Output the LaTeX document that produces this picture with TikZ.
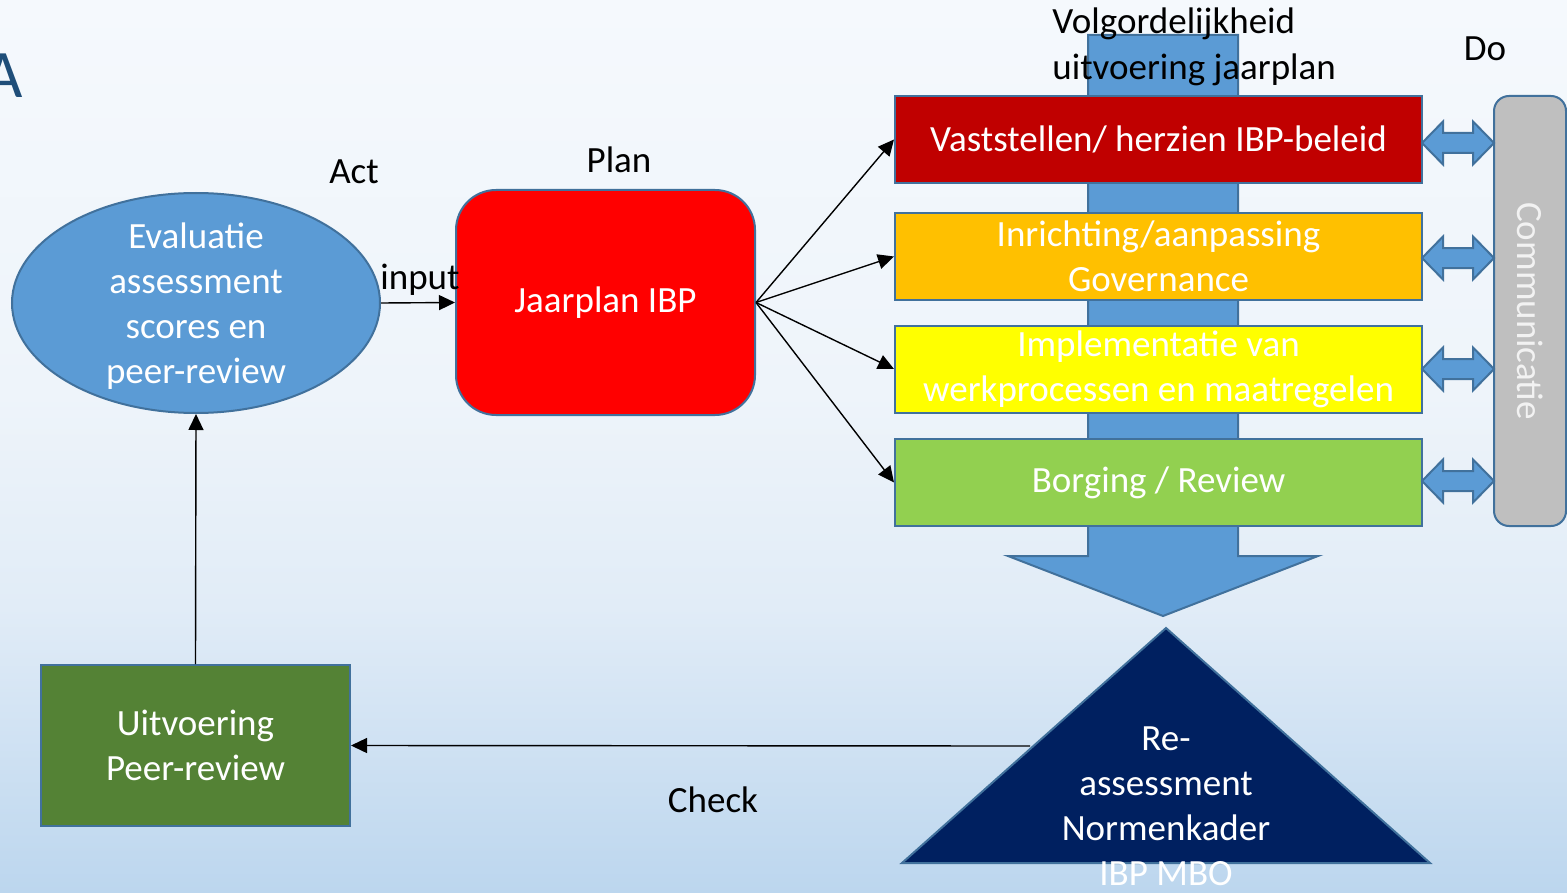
\documentclass[tikz,border=0pt]{standalone}
\usepackage{fontspec}
\setmainfont{Carlito}
\usetikzlibrary{arrows.meta,shapes.geometric}
\definecolor{edgeblue}{HTML}{41719C}
\definecolor{arrowblue}{HTML}{5B9BD5}
\definecolor{Adark}{HTML}{1F4E79}
\definecolor{boxred}{HTML}{C00000}
\definecolor{boxorange}{HTML}{FFC000}
\definecolor{boxyellow}{HTML}{FFFF00}
\definecolor{boxgreen}{HTML}{92D050}
\definecolor{commgray}{HTML}{BFBFBF}
\definecolor{commtext}{HTML}{F2F2F2}
\definecolor{navy}{HTML}{002060}
\definecolor{peergreen}{HTML}{548235}
\definecolor{bgtop}{HTML}{F5F9FD}
\definecolor{bgmidtop}{HTML}{EEF4FA}
\definecolor{bgmid}{HTML}{E1ECF7}
\definecolor{bgbot}{HTML}{BCD6EE}
\pgfdeclareverticalshading{bgshade}{100bp}{color(0bp)=(bgbot); color(25bp)=(bgbot); color(41bp)=(bgmid); color(53bp)=(bgmidtop); color(75bp)=(bgtop); color(100bp)=(bgtop)}
\begin{document}
\begin{tikzpicture}[x=0.5pt,y=-0.5pt,
  font=\fontsize{18.5}{22.5}\selectfont,
  shapeln/.style={draw=edgeblue, line width=1pt},
  box/.style={shapeln, rectangle, minimum width=263.5pt, minimum height=43.5pt, inner sep=0pt, text=white, align=center},
  lbl/.style={text=black, inner sep=0pt},
  conn/.style={draw=black, line width=0.7pt, -{Triangle[length=8pt,width=7.5pt]}},
  dblarr/.style={shapeln, fill=arrowblue}]
\useasboundingbox (0,0) rectangle (1567,893);
\shade[shading=bgshade] (0,0) rectangle (1567,893);

% big downward arrow
\filldraw[shapeln, fill=arrowblue] (1088,35) -- (1238,35) -- (1238,556) -- (1318,556) -- (1163,616) -- (1008,556) -- (1088,556) -- cycle;

\node[lbl, anchor=base west, text=Adark, font=\fontsize{34}{40}\selectfont] (bigA) at (-17,98) {A};

\node[shapeln, ellipse, fill=arrowblue, minimum width=184pt, minimum height=110pt, inner sep=0pt] (eval) at (196,303) {};
\node[text=white, align=center, inner sep=0pt] (evaltext) at (196,306) {Evaluatie\\assessment\\scores en\\peer-review};

\node[shapeln, fill=red, rounded corners=20pt, minimum width=149.5pt, minimum height=112.5pt, inner sep=0pt, text=white] (plan) at (605.5,302.5) {Jaarplan IBP};

\node[box, fill=boxred] (b1) at (1158.5,139.5) {Vaststellen/ herzien IBP-beleid};
\node[box, fill=boxorange] (b2) at (1158.5,256.5) {Inrichting/aanpassing\\Governance};
\node[box, fill=boxyellow] (b3) at (1158.5,369) {Implementatie van\\werkprocessen en maatregelen};
\node[box, fill=boxgreen] (b4) at (1158.5,482.5) {Borging / Review};

\node[shapeln, fill=commgray, rounded corners=7.5pt, minimum width=36pt, minimum height=215pt, inner sep=0pt] (comm) at (1530,311) {};
\node[text=commtext, rotate=-90, inner sep=0pt] (commlabel) at (comm.center) {Communicatie};

\foreach \y in {143,258,369,481} {
  \filldraw[dblarr] (1422,\y) -- (1443,\y-21.5) -- (1443,\y-10) -- (1473,\y-10) -- (1473,\y-21.5) -- (1494,\y) -- (1473,\y+21.5) -- (1473,\y+10) -- (1443,\y+10) -- (1443,\y+21.5) -- cycle;
}

\filldraw[shapeln, fill=navy] (1166,628) -- (1430,863) -- (902,863) -- cycle;
\coordinate (triL) at (1030,746);
\node[text=white, align=center, inner sep=0pt] (tri) at (1166,806) {Re-\\assessment\\Normenkader\\IBP MBO};

\node[shapeln, fill=peergreen, minimum width=154.5pt, minimum height=80.5pt, inner sep=0pt, text=white, align=center] (peer) at (195.5,745.5) {Uitvoering\\Peer-review};

\node[lbl] (act) at (354,172) {Act};
\node[lbl] (planlbl) at (619,160) {Plan};
\node[lbl] (input) at (420,280) {input};
\node[lbl] (do) at (1485,49) {Do};
\node[lbl] (check) at (713,800) {Check};
\node[lbl, align=left, anchor=west, font=\fontsize{18.5}{23}\selectfont] (volg) at (1052,47) {Volgordelijkheid\\uitvoering jaarplan};

\draw[conn] (eval.east) -- (plan.west);
\foreach \b in {b1,b2,b3,b4} \draw[conn] (plan.east) -- (\b.west);
\draw[conn] (triL) -- (peer.east);
\draw[conn] (peer.north) -- (eval.south);
\end{tikzpicture}
\end{document}
